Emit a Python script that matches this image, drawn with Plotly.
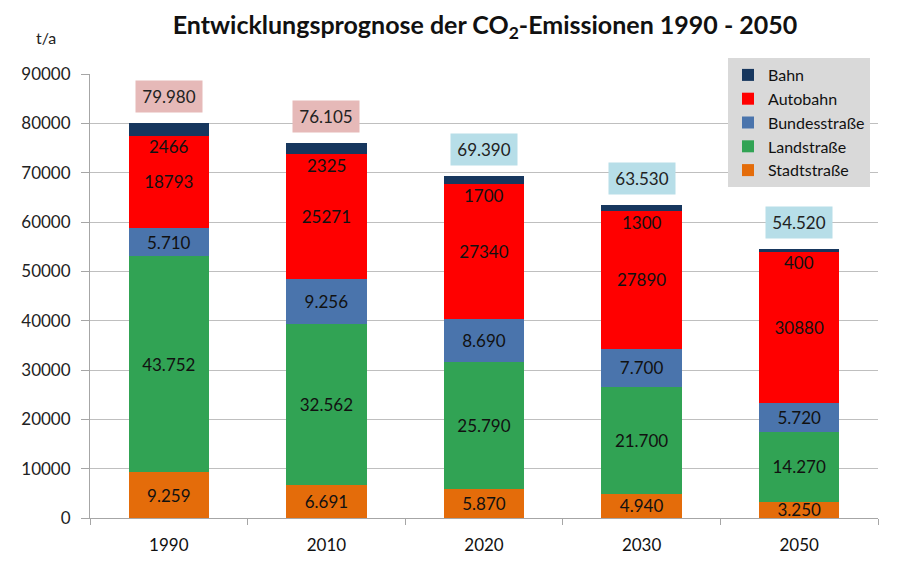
import plotly.graph_objects as go

years = ["1990", "2010", "2020", "2030", "2050"]
stadt = [9259, 6691, 5870, 4940, 3250]
land = [43752, 32562, 25790, 21700, 14270]
bund = [5710, 9256, 8690, 7700, 5720]
autobahn = [18793, 25271, 27340, 27890, 30880]
bahn = [2466, 2325, 1700, 1300, 400]
totals = [79980, 76105, 69390, 63530, 54520]
total_colors = ["#E6B9B8", "#E6B9B8", "#B7DEE8", "#B7DEE8", "#B7DEE8"]


def de(v):
    return f"{v:,}".replace(",", ".")


FONT = "Lato"
W, H = 892, 553
series = [
    ("Stadtstraße", stadt, "#E46C0A", [de(v) for v in stadt]),
    ("Landstraße", land, "#31A354", [de(v) for v in land]),
    ("Bundesstraße", bund, "#4A74AC", [de(v) for v in bund]),
    ("Autobahn", autobahn, "#FF0000", [str(v) for v in autobahn]),
    ("Bahn", bahn, "#17375E", None),
]

fig = go.Figure()
for name, vals, col, txt in series:
    fig.add_trace(go.Bar(
        name=name, x=years, y=vals, marker=dict(color=col, line=dict(width=0)),
        text=txt, textposition="inside" if txt else "none",
        insidetextanchor="middle", textangle=0, constraintext="none",
        textfont=dict(family=FONT, size=17, color="#111111"),
        hoverinfo="name+y",
    ))

annotations = []
for i, y in enumerate(years):
    top_red = totals[i] - bahn[i]
    annotations.append(dict(
        x=i, y=top_red, xref="x", yref="y", text=str(bahn[i]), showarrow=False,
        yanchor="middle", yshift=-11, font=dict(family=FONT, size=17, color="#111111")))
    annotations.append(dict(
        x=i, y=totals[i], xref="x", yref="y", text=de(totals[i]), showarrow=False,
        yanchor="bottom", yshift=10, bgcolor=total_colors[i], borderpad=5, width=56,
        font=dict(family=FONT, size=17, color="#222222")))

annotations.append(dict(x=(46 - 90) / 788, y=(518 - 38) / 444, xref="paper", yref="paper",
                        text="t/a", showarrow=False, xanchor="center", yanchor="middle",
                        font=dict(family=FONT, size=16, color="#222222")))

fig.update_layout(
    width=W, height=H,
    margin=dict(l=82, r=22, t=66, b=43),
    paper_bgcolor="white", plot_bgcolor="white",
    barmode="stack", bargap=0.49,
    title=dict(text="Entwicklungsprognose der CO<sub>2</sub>-Emissionen 1990 - 2050",
               x=477 / W, xanchor="center", y=1 - 17 / H, yanchor="middle",
               font=dict(family=FONT, size=25, color="#111111", weight="bold")),
    font=dict(family=FONT, size=15, color="#222222"),
    legend=dict(x=(728 - 90) / 788, y=(518 - 58) / 444, xanchor="left", yanchor="top",
                bgcolor="#D9D9D9", traceorder="reversed", itemwidth=30,
                font=dict(family=FONT, size=16, color="#111111")),
    annotations=annotations,
    showlegend=True,
)
fig.update_xaxes(type="category", range=[-0.5, 4.5], showline=True, linecolor="#A6A6A6",
                 linewidth=1, ticks="outside", tickson="boundaries", ticklen=6,
                 tickcolor="#A6A6A6", tickangle=0, ticklabelstandoff=12, automargin=False,
                 tickfont=dict(family=FONT, size=17, color="#111111"), showgrid=False)
fig.update_yaxes(range=[0, 90000], dtick=10000, tickformat="d", showline=True,
                 linecolor="#A6A6A6", linewidth=1, ticks="outside", ticklen=8,
                 tickcolor="#A6A6A6", gridcolor="#BFBFBF", gridwidth=1,
                 ticklabelstandoff=7, automargin=False,
                 tickfont=dict(family=FONT, size=17, color="#222222"), zeroline=False)

fig.write_html("out.html")
